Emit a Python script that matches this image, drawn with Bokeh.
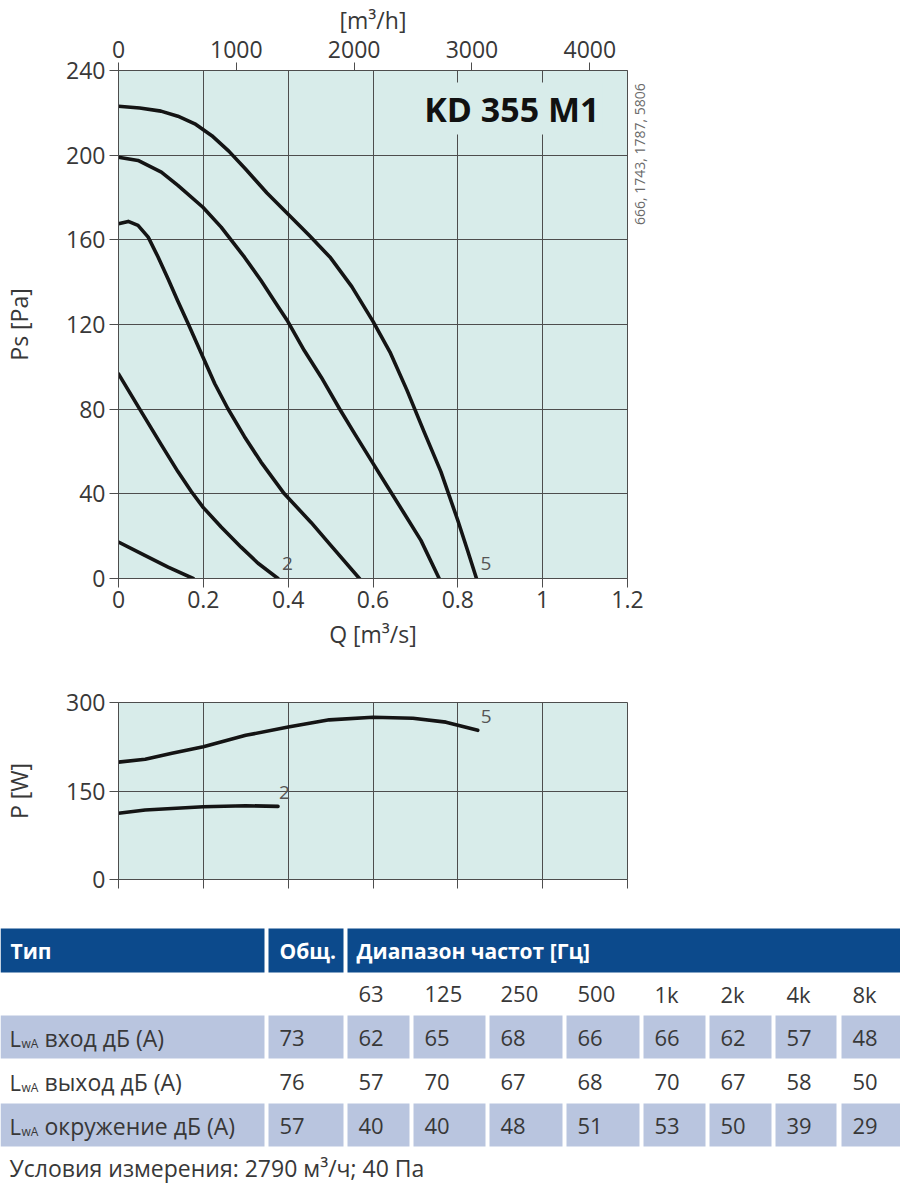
import math
from bokeh.plotting import figure
from bokeh.models import Range1d, LinearAxis, FixedTicker, Label, CustomJSTickFormatter
from bokeh.layouts import column
from bokeh.embed import file_html
from bokeh.resources import INLINE
from bokeh.core.properties import value

# ---------------- data ----------------
# Static pressure curves (Q in m3/s, Ps in Pa)
c1_q = [0, 0.062, 0.117, 0.176]
c1_ps = [17.2, 10.9, 5.4, 0]

c2_q = [0, 0.05, 0.1, 0.14, 0.172, 0.2, 0.242, 0.289, 0.329, 0.376]
c2_ps = [96.7, 80, 63.5, 50.5, 41, 33.5, 24.3, 14.8, 7.2, 0]

c3_q = [0, 0.023, 0.046, 0.07, 0.093, 0.117, 0.14, 0.164, 0.199, 0.227, 0.258, 0.297,
        0.336, 0.391, 0.454, 0.501, 0.568]
c3_ps = [167.6, 168.7, 166.8, 161.3, 152, 141.5, 131, 120.5, 104.6, 92, 80.2, 67,
         55, 40, 26.5, 15.5, 0]

c4_q = [0, 0.046, 0.101, 0.14, 0.199, 0.242, 0.297, 0.336, 0.376, 0.399, 0.438, 0.478,
        0.521, 0.557, 0.596, 0.635, 0.674, 0.713, 0.756]
c4_ps = [199, 197.5, 192, 185.7, 175.4, 166, 151.8, 140.8, 128.5, 121.5, 107.7, 95.1,
         80.2, 68.3, 55.7, 43.1, 30.6, 18, 0]

c5_q = [0, 0.05, 0.1, 0.14, 0.18, 0.22, 0.26, 0.3, 0.35, 0.4, 0.45, 0.5, 0.55, 0.6,
        0.64, 0.68, 0.72, 0.76, 0.8, 0.823, 0.844]
c5_ps = [223.1, 222.3, 220.8, 218.4, 214.8, 209.2, 201.9, 193.3, 182.1, 172.1, 162, 151.5,
         137.9, 121.5, 107, 89, 69.5, 50.5, 27.4, 13.2, 0]

ps_curves = [(c1_q, c1_ps), (c2_q, c2_ps), (c3_q, c3_ps), (c4_q, c4_ps), (c5_q, c5_ps)]

# Power curves (Q in m3/s, P in W)
p5_q = [0, 0.063, 0.126, 0.2, 0.3, 0.4, 0.497, 0.6, 0.694, 0.772, 0.847]
p5_w = [198.9, 203.9, 213.9, 225, 244.4, 258.3, 270.6, 275, 273.3, 266.7, 252.8]
p2_q = [0, 0.063, 0.2, 0.3, 0.376]
p2_w = [112.2, 117.8, 123.3, 125, 123.9]

curve_tags = ["2", "5"]
ps_tag_q = [0.398, 0.866]
ps_tag_ps = [7, 7]
pw_tag_q = [0.391, 0.867]
pw_tag_w = [147, 277]

q_ticks = [0, 0.2, 0.4, 0.6, 0.8, 1.0, 1.2]
ps_ticks = [0, 40, 80, 120, 160, 200, 240]
mh_ticks = [0, 1000, 2000, 3000, 4000]
pw_ticks = [0, 150, 300]

model_name = "KD 355 M1"
article_numbers = "666, 1743, 1787, 5806"

# Table
table_header = ["Тип", "Общ.", "Диапазон частот [Гц]"]
freq_bands = ["63", "125", "250", "500", "1k", "2k", "4k", "8k"]
row_labels = ["вход дБ (А)", "выход дБ (А)", "окружение дБ (А)"]
total_levels = [73, 76, 57]
inlet_levels = [62, 65, 68, 66, 66, 62, 57, 48]
outlet_levels = [57, 70, 67, 68, 70, 67, 58, 50]
surround_levels = [40, 40, 48, 51, 53, 50, 39, 29]
footer = "Условия измерения: 2790 м³/ч; 40 Па"

# ---------------- style ----------------
FONT = "Open Sans"
TXT = "#383838"
GRID = "#4d4d4d"
BG = "#d8ecea"
HEAD = "#0c4a8c"
SHADE = "#b9c5df"
CURVE = "#141414"
W = 900


def style_axis(ax, ticks, size="23px"):
    ax.ticker = FixedTicker(ticks=ticks)
    ax.axis_line_color = GRID
    ax.axis_line_width = 1
    ax.major_tick_line_color = GRID
    ax.major_tick_line_width = 1
    ax.major_tick_out = 9
    ax.major_tick_in = 0
    ax.minor_tick_line_color = None
    ax.major_label_text_font = FONT
    ax.major_label_text_font_size = size
    ax.major_label_text_color = TXT
    ax.axis_label_text_font = FONT
    ax.axis_label_text_font_size = "23px"
    ax.axis_label_text_font_style = "normal"
    ax.axis_label_text_color = TXT


def style_fig(p, xt, yt):
    p.background_fill_color = BG
    p.border_fill_color = "white"
    p.outline_line_color = GRID
    p.outline_line_width = 1
    p.xgrid.ticker = FixedTicker(ticks=xt)
    p.ygrid.ticker = FixedTicker(ticks=yt)
    p.grid.grid_line_color = GRID
    p.grid.grid_line_width = 1


# ---------------- main chart ----------------
p1 = figure(width=W, height=655, x_range=Range1d(0, 1.2), y_range=Range1d(0, 240),
            output_backend="svg", toolbar_location=None,
            min_border_left=117, min_border_right=273, min_border_top=70, min_border_bottom=77)
style_fig(p1, q_ticks, ps_ticks)

xb = p1.xaxis[0]
style_axis(xb, q_ticks)
xb.major_label_standoff = 3
xb.formatter = CustomJSTickFormatter(code="return String(Math.round(tick * 10) / 10);")
xb.axis_label = "Q [m³/s]"
xb.axis_label_standoff = 7

yl = p1.yaxis[0]
style_axis(yl, ps_ticks)
yl.major_label_standoff = 4
yl.axis_label = "Ps [Pa]"
yl.axis_label_standoff = 28

p1.extra_x_ranges = {"mh": Range1d(0, 1.2 * 3600)}
top_ax = LinearAxis(x_range_name="mh")
style_axis(top_ax, mh_ticks)
top_ax.major_tick_out = 8
top_ax.major_label_standoff = 5
top_ax.axis_label = "[m³/h]"
top_ax.axis_label_standoff = 2
p1.add_layout(top_ax, "above")

# article numbers printed vertically at the right edge of the chart
art_ax = LinearAxis(ticker=FixedTicker(ticks=[167]), major_label_overrides={167: article_numbers})
art_ax.axis_line_color = None
art_ax.major_tick_line_color = None
art_ax.minor_tick_line_color = None
art_ax.major_tick_out = 0
art_ax.major_tick_in = 0
art_ax.major_label_standoff = 12
art_ax.major_label_orientation = math.pi / 2
art_ax.major_label_text_font = FONT
art_ax.major_label_text_font_size = "14px"
art_ax.major_label_text_color = "#6a6a6a"
p1.add_layout(art_ax, "right")

for qs, ps in ps_curves:
    p1.line(qs, ps, line_width=3.6, line_color=CURVE, line_cap="round", line_join="round")

p1.text(x=ps_tag_q, y=ps_tag_ps, text=curve_tags, text_font=value(FONT),
        text_font_size="19px", text_color="#555555", text_align="center", text_baseline="middle")

p1.add_layout(Label(x=1.141, y=222, text=model_name, text_font=FONT, text_font_size="34px",
                    text_font_style="bold", text_color="#111111", text_align="right",
                    text_baseline="middle", background_fill_color=BG, padding=3))

# ---------------- power chart ----------------
p2 = figure(width=W, height=270, x_range=Range1d(0, 1.2), y_range=Range1d(0, 300),
            output_backend="svg", toolbar_location=None,
            min_border_left=117, min_border_right=273, min_border_top=47, min_border_bottom=46)
style_fig(p2, q_ticks, pw_ticks)
style_axis(p2.xaxis[0], q_ticks, size="10px")
p2.xaxis[0].formatter = CustomJSTickFormatter(code="return '';")
yp = p2.yaxis[0]
style_axis(yp, pw_ticks)
yp.major_label_standoff = 4
yp.axis_label = "P [W]"
yp.axis_label_standoff = 28

p2.line(p5_q, p5_w, line_width=3.6, line_color=CURVE, line_cap="round", line_join="round")
p2.line(p2_q, p2_w, line_width=3.6, line_color=CURVE, line_cap="round", line_join="round")
p2.text(x=pw_tag_q, y=pw_tag_w, text=curve_tags, text_font=value(FONT),
        text_font_size="19px", text_color="#555555", text_align="center", text_baseline="middle")

# ---------------- table ----------------
p3 = figure(width=W, height=261, x_range=Range1d(0, W), y_range=Range1d(1186, 925),
            x_axis_type=None, y_axis_type=None, output_backend="svg", toolbar_location=None,
            min_border=0)
p3.outline_line_color = None
p3.background_fill_color = "white"
p3.border_fill_color = "white"
p3.grid.visible = False

col_left = [0, 268, 347, 413, 489, 566, 643, 709, 775, 841]
col_right = [264, 343, 409, 485, 562, 639, 705, 771, 836, 900]
pad = 11

# header
p3.quad(left=[col_left[0], col_left[1], col_left[2]], right=[col_right[0], col_right[1], col_right[-1]],
        top=[928] * 3, bottom=[972] * 3, fill_color=HEAD, line_color=None)
p3.text(x=[10, col_left[1] + pad, col_left[2] + 9], y=[950] * 3, text=table_header,
        text_font=value(FONT), text_font_size="21px", text_font_style="bold",
        text_color="white", text_baseline="middle")

# frequency row
p3.text(x=[l + pad for l in col_left[2:]], y=[993] * len(freq_bands), text=freq_bands,
        text_font=value(FONT), text_font_size="22px", text_color=TXT, text_baseline="middle")

rows = [inlet_levels, outlet_levels, surround_levels]
row_y = [1037, 1081, 1125]
shaded = [True, False, True]
for r, (levels, yc, sh) in enumerate(zip(rows, row_y, shaded)):
    if sh:
        p3.quad(left=col_left, right=col_right, top=[yc - 22] * len(col_left),
                bottom=[yc + 21] * len(col_left), fill_color=SHADE, line_color=None)
    p3.text(x=[9], y=[yc], text=["L"], text_font=value(FONT), text_font_size="22px",
            text_color=TXT, text_baseline="middle")
    p3.text(x=[21], y=[yc + 6], text=["wA"], text_font=value(FONT), text_font_size="12px",
            text_color=TXT, text_baseline="middle")
    p3.text(x=[44], y=[yc], text=[row_labels[r]], text_font=value(FONT), text_font_size="23px",
            text_color=TXT, text_baseline="middle")
    vals = [str(total_levels[r])] + [str(v) for v in levels]
    p3.text(x=[l + pad for l in col_left[1:]], y=[yc] * len(vals), text=vals,
            text_font=value(FONT), text_font_size="22px", text_color=TXT, text_baseline="middle")

p3.text(x=[9], y=[1167], text=[footer], text_font=value(FONT), text_font_size="23px",
        text_color=TXT, text_baseline="middle")

layout = column(column(p1, p2, spacing=0), p3, spacing=0)
open("out.html", "w").write(file_html(layout, INLINE))
